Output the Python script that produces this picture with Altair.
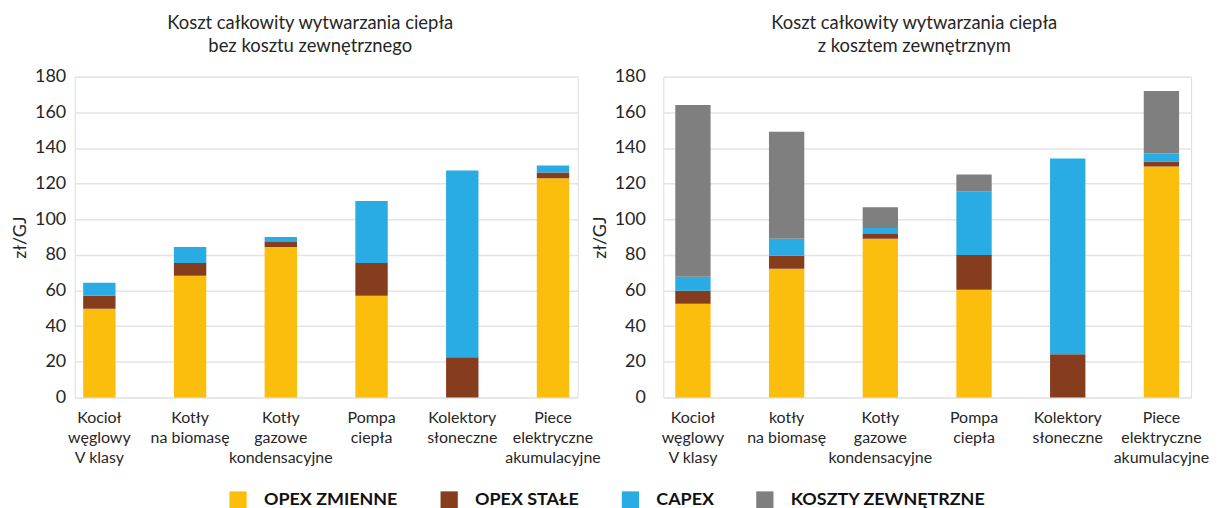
import altair as alt
import pandas as pd

series = ["OPEX ZMIENNE", "OPEX STAŁE", "CAPEX", "KOSZTY ZEWNĘTRZNE"]
colors = ["#FBBE0D", "#853D1D", "#29ACE3", "#7F7F7F"]

cats_left = ["Kocioł|węglowy|V klasy", "Kotły|na biomasę", "Kotły|gazowe|kondensacyjne",
             "Pompa|ciepła", "Kolektory|słoneczne", "Piece|elektryczne|akumulacyjne"]
cats_right = ["Kocioł|węglowy|V klasy", "kotły|na biomasę", "Kotły|gazowe|kondensacyjne",
              "Pompa|ciepła", "Kolektory|słoneczne", "Piece|elektryczne|akumulacyjne"]

# left panel: without external cost
left_opex_zm = [49.8, 68.3, 84.4, 57.1, 0.0, 123.0]
left_opex_st = [7.3, 7.2, 2.8, 18.4, 22.5, 3.3]
left_capex = [7.3, 8.9, 2.8, 34.7, 104.9, 3.9]

# right panel: with external cost
right_opex_zm = [52.6, 72.2, 89.0, 60.4, 0.0, 129.6]
right_opex_st = [7.3, 7.3, 2.7, 19.6, 24.2, 2.8]
right_capex = [7.8, 9.5, 3.4, 35.7, 109.9, 4.5]
right_ext = [96.5, 60.2, 11.7, 9.5, 0.0, 35.1]

title_left = ["Koszt całkowity wytwarzania ciepła", "bez kosztu zewnętrznego"]
title_right = ["Koszt całkowity wytwarzania ciepła", "z kosztem zewnętrznym"]
y_ticks = [0, 20, 40, 60, 80, 100, 120, 140, 160, 180]

FONT = "Lato"
TXT = "#262626"


def long_table(cats, cols):
    rows = []
    for si, vals in enumerate(cols):
        for c, v in zip(cats, vals):
            rows.append({"cat": c, "series": series[si], "ord": si, "value": v})
    return pd.DataFrame(rows)


df_left = long_table(cats_left, [left_opex_zm, left_opex_st, left_capex])
df_right = long_table(cats_right, [right_opex_zm, right_opex_st, right_capex, right_ext])

color = alt.Color(
    "series:N",
    scale=alt.Scale(domain=series, range=colors),
    legend=alt.Legend(
        title=None, orient="none", direction="horizontal",
        legendX=155, legendY=416,
        symbolType="square", symbolSize=300, symbolStrokeWidth=0,
        symbolOpacity=1, labelLimit=400,
        labelFont=FONT, labelFontSize=18, labelFontWeight="bold",
        labelColor="#111111", labelOffset=17, columnPadding=42,
    ),
)


def panel(df, cats, width, title, dx, pin, pout, lpad, tx):
    return alt.Chart(df).mark_bar(opacity=1).encode(
        x=alt.X(
            "cat:N", sort=cats, title=None,
            scale=alt.Scale(paddingInner=pin, paddingOuter=pout),
            axis=alt.Axis(
                labelExpr="split(datum.value, '|')", labelAngle=0,
                labelFont=FONT, labelFontSize=16, labelColor=TXT,
                labelLineHeight=20, labelPadding=12, labelBaseline="top",
                ticks=False, domain=False, grid=False,
            ),
        ),
        y=alt.Y(
            "value:Q", stack="zero", title="zł/GJ",
            scale=alt.Scale(domain=[0, 180], nice=False),
            axis=alt.Axis(
                values=y_ticks, ticks=False, domain=False,
                labelFont=FONT, labelFontSize=18, labelColor=TXT,
                labelPadding=lpad,
                gridColor="#e4e4e4", gridWidth=1.5,
                titleFont=FONT, titleFontSize=18, titleFontWeight="normal",
                titleColor=TXT, titleX=tx, titleY=161, titleAngle=270,
                titleAlign="center", titleBaseline="middle",
            ),
        ),
        color=color,
        order=alt.Order("ord:Q", sort="ascending"),
    ).properties(
        width=width, height=322,
        title=alt.TitleParams(
            title, font=FONT, fontSize=18.5, fontWeight="normal", color=TXT,
            anchor="middle", dx=dx, offset=12, lineHeight=23,
        ),
    )


left = panel(df_left, cats_left, 505, title_left, -16, 0.643, 0.093, 9, -54)
right = panel(df_right, cats_right, 530, title_right, -13, 0.623, 0.128, 18, -63)

chart = alt.hconcat(left, right, spacing=86, bounds="flush").properties(
    padding={"left": 3, "top": 5, "right": 0, "bottom": 0},
).configure_view(stroke=None).configure(font=FONT)

chart.save("out.html", embed_options={"renderer": "svg", "actions": False})
